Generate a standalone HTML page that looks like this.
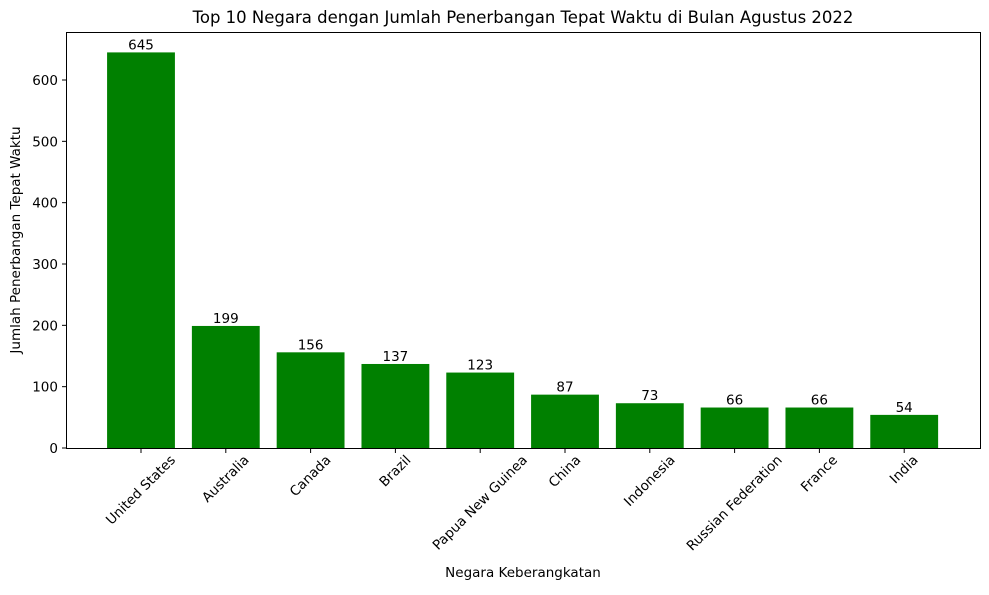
<!DOCTYPE html>
<html><head><meta charset="utf-8"><style>body{margin:0;background:#fff}svg{font-family:"DejaVu Sans","Liberation Sans",sans-serif}</style></head>
<body>
<svg id="chart" width="989" height="590" xmlns="http://www.w3.org/2000/svg">
<text x="523" y="23" font-size="16.5" text-anchor="middle">Top 10 Negara dengan Jumlah Penerbangan Tepat Waktu di Bulan Agustus 2022</text>
<g id="bars"></g>
<g id="yaxis"></g>
<g id="xaxis"></g>
<rect x="66.5" y="32.5" width="914" height="416" fill="none" stroke="#000" stroke-width="1"/>
<text x="523" y="577" font-size="13.5" text-anchor="middle">Negara Keberangkatan</text>
<text transform="translate(20,240) rotate(-90)" font-size="13.5" text-anchor="middle">Jumlah Penerbangan Tepat Waktu</text>
</svg>
<script>
const categories=["United States","Australia","Canada","Brazil","Papua New Guinea","China","Indonesia","Russian Federation","France","India"];
const values=[645,199,156,137,123,87,73,66,66,54];
const yTicks=[0,100,200,300,400,500,600];
const NS="http://www.w3.org/2000/svg";
const y0=448,pxPer=(448-80)/600;
const yScale=v=>y0-v*pxPer;
const step=84.8,x0=141;
const xScale=i=>x0+i*step;
const bw=step*0.8;
function mk(t,a,p){const e=document.createElementNS(NS,t);for(const k in a)e.setAttribute(k,a[k]);p.appendChild(e);return e;}
const bars=document.getElementById('bars'),ya=document.getElementById('yaxis'),xa=document.getElementById('xaxis');
values.forEach((v,i)=>{
 const r=mk('rect',{x:xScale(i)-bw/2,y:yScale(v),width:bw,height:y0-yScale(v),fill:'#008000'},bars);
 
 
 const t=mk('text',{x:xScale(i),y:yScale(v)-3,'font-size':13.5,'text-anchor':'middle'},bars);
 t.textContent=v;
 
 
});
yTicks.forEach(v=>{
 const y=yScale(v);
 mk('line',{x1:62,x2:66.5,y1:y,y2:y,stroke:'#000'},ya);
 const t=mk('text',{x:58,y:y+5,'font-size':13.5,'text-anchor':'end'},ya);
 t.textContent=v;
 
 
});
categories.forEach((c,i)=>{
 const x=xScale(i);
 mk('line',{x1:x,x2:x,y1:448.5,y2:453,stroke:'#000'},xa);
 const t=mk('text',{'font-size':13.5,'text-anchor':'end','dominant-baseline':'hanging'},xa);
 t.textContent=c;
 
 
 const L=t.getComputedTextLength();
 t.setAttribute('transform',`translate(${x+L*0.354-4},${454}) rotate(-45)`);
});
</script>
</body></html>
